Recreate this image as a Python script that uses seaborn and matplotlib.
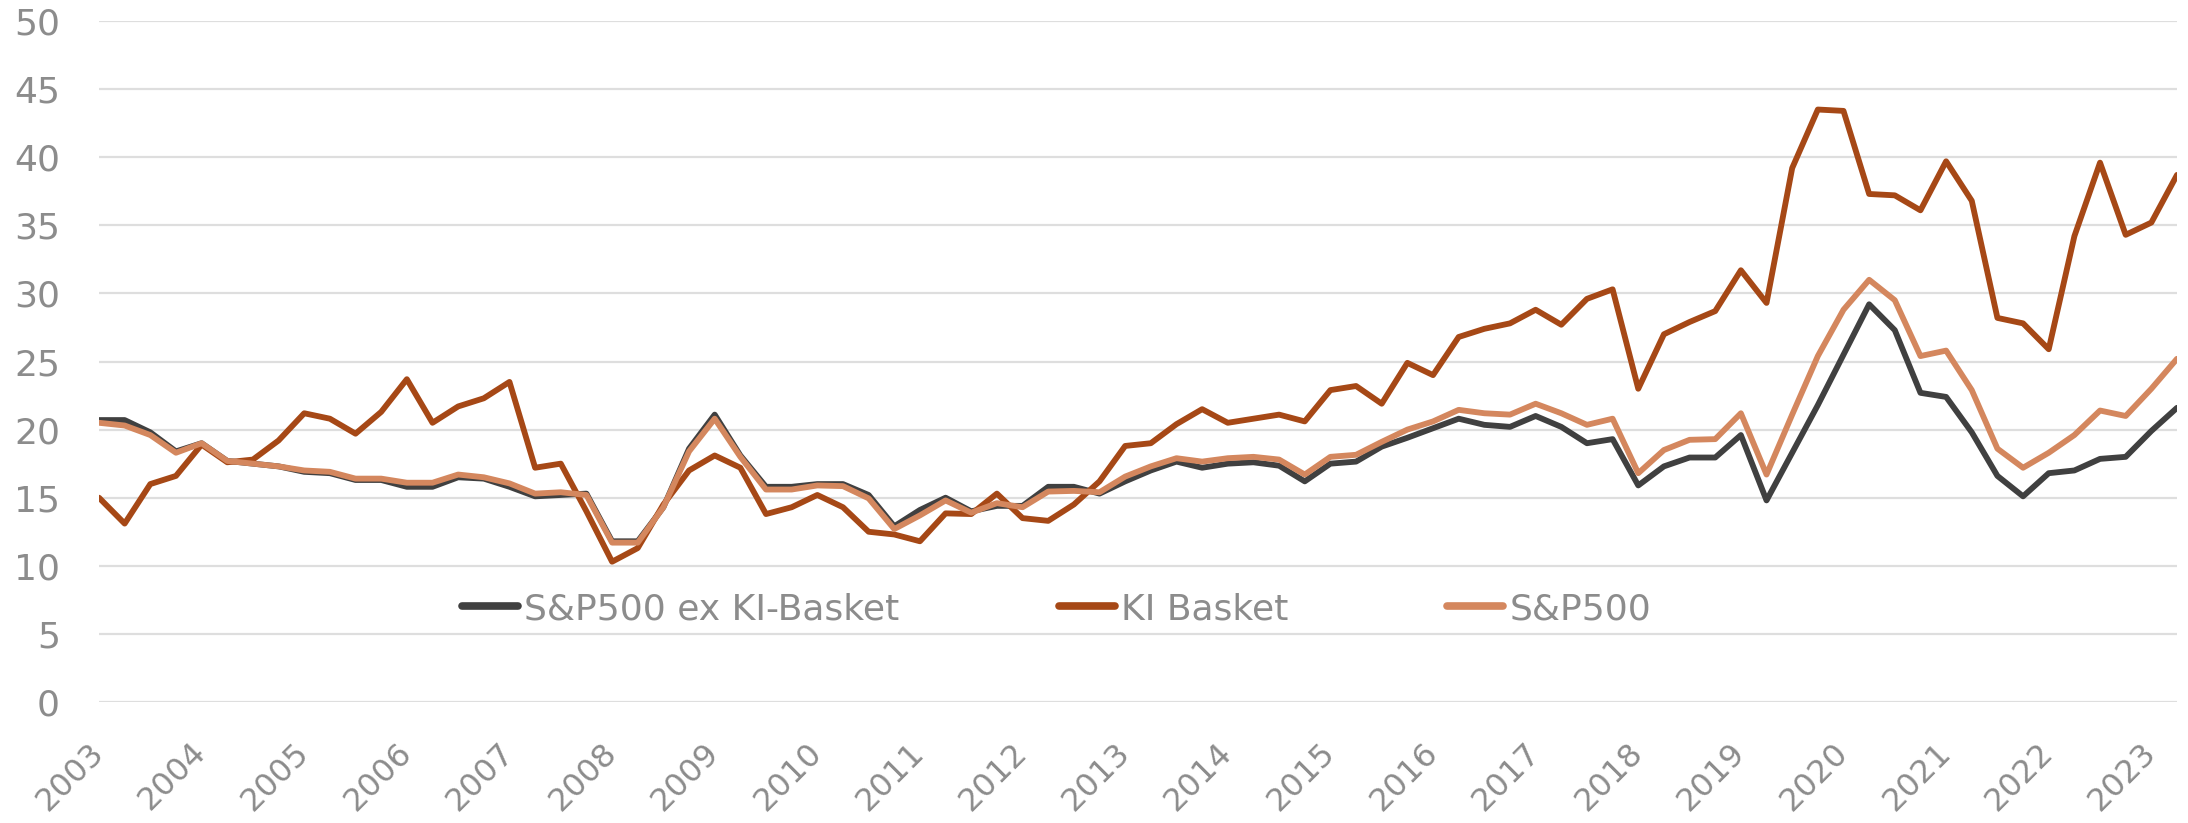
import matplotlib
matplotlib.use("Agg")
import matplotlib.pyplot as plt
import numpy as np
import pandas as pd
import seaborn as sns

# quarterly P/E style series, 2003Q1 .. 2023Q2
sp500_ex_ki = [
    20.7, 20.7, 19.8, 18.4, 19.0, 17.7, 17.5, 17.3, 16.9, 16.8,
    16.3, 16.3, 15.8, 15.8, 16.5, 16.4, 15.8, 15.1, 15.2, 15.3,
    11.8, 11.8, 14.3, 18.6, 21.1, 18.1, 15.8, 15.8, 16.0, 16.0,
    15.2, 12.9, 14.1, 15.0, 14.0, 14.4, 14.4, 15.8, 15.8, 15.3,
    16.2, 17.0, 17.65, 17.2, 17.5, 17.6, 17.35, 16.2, 17.5, 17.65,
    18.75, 19.4, 20.1, 20.8, 20.35, 20.2, 21.0, 20.2, 19.0, 19.3,
    15.9, 17.3, 17.95, 17.95, 19.6, 14.8, 18.3, 21.8, 25.5, 29.2,
    27.3, 22.7, 22.4, 19.8, 16.6, 15.1, 16.8, 17.0, 17.85, 18.0,
    19.9, 21.6,
]
ki_basket = [
    15.0, 13.1, 16.0, 16.6, 18.9, 17.6, 17.8, 19.2, 21.2, 20.8,
    19.7, 21.3, 23.7, 20.5, 21.7, 22.3, 23.5, 17.2, 17.5, 14.0,
    10.3, 11.3, 14.5, 17.0, 18.1, 17.2, 13.8, 14.3, 15.2, 14.3,
    12.5, 12.3, 11.8, 13.85, 13.8, 15.3, 13.5, 13.3, 14.5, 16.2,
    18.8, 19.0, 20.4, 21.5, 20.5, 20.8, 21.1, 20.6, 22.9, 23.2,
    21.9, 24.9, 24.0, 26.8, 27.4, 27.8, 28.8, 27.7, 29.6, 30.3,
    23.0, 27.0, 27.9, 28.7, 31.7, 29.3, 39.2, 43.5, 43.4, 37.3,
    37.2, 36.1, 39.7, 36.8, 28.2, 27.8, 25.9, 34.2, 39.6, 34.3,
    35.2, 38.7,
]
sp500 = [
    20.5, 20.3, 19.6, 18.3, 19.0, 17.7, 17.5, 17.3, 17.0, 16.9,
    16.4, 16.4, 16.1, 16.1, 16.7, 16.5, 16.05, 15.3, 15.4, 15.2,
    11.7, 11.7, 14.3, 18.4, 20.8, 18.0, 15.6, 15.6, 15.9, 15.85,
    14.95, 12.7, 13.7, 14.8, 13.9, 14.6, 14.3, 15.45, 15.5, 15.4,
    16.55, 17.3, 17.9, 17.65, 17.9, 18.0, 17.8, 16.7, 18.0, 18.15,
    19.1, 20.0, 20.6, 21.45, 21.2, 21.1, 21.9, 21.2, 20.35, 20.8,
    16.8, 18.5, 19.25, 19.3, 21.2, 16.7, 21.1, 25.4, 28.8, 31.0,
    29.5, 25.4, 25.8, 22.9, 18.6, 17.2, 18.3, 19.6, 21.4, 21.0,
    23.0, 25.2,
]
series_names = ["S&P500 ex KI-Basket", "KI Basket", "S&P500"]
series_colors = ["#404040", "#a64816", "#d4875e"]
years = list(range(2003, 2024))
y_ticks = list(range(0, 51, 5))

quarter = 2003 + np.arange(len(sp500)) / 4
df = pd.concat([
    pd.DataFrame({"quarter": quarter, "value": vals, "series": name})
    for name, vals in zip(series_names, [sp500_ex_ki, ki_basket, sp500])
])

sns.set_style("white")
plt.rcParams["font.family"] = ["DejaVu Sans"]

W, H = 2188, 823
fig = plt.figure(figsize=(W / 100, H / 100), dpi=100)
ax = fig.add_axes([99 / W, 1 - 702 / H, (2177 - 99) / W, (702 - 21) / H])

sns.lineplot(
    data=df, x="quarter", y="value", hue="series",
    hue_order=series_names, palette=series_colors,
    linewidth=4.2, ax=ax,
)

ax.set_xlim(quarter[0], quarter[-1])
ax.set_ylim(0, 50)
ax.set_yticks(y_ticks)
ax.set_xticks(years)
ax.set_xticklabels([str(y) for y in years], rotation=45, ha="right",
                   va="center", rotation_mode="anchor")
ax.tick_params(axis="y", length=0, pad=28, labelsize=26, labelcolor="#8c8c8c")
ax.tick_params(axis="x", length=0, pad=33, labelsize=23, labelcolor="#8c8c8c")
ax.grid(axis="y", color="#dedede", linewidth=1.6)
ax.grid(axis="x", visible=False)
ax.set_axisbelow(True)
for s in ax.spines.values():
    s.set_visible(False)
ax.set_xlabel("")
ax.set_ylabel("")

handles, labels = ax.get_legend_handles_labels()
leg = ax.legend(
    handles, labels, ncol=3, frameon=False, fontsize=26,
    loc="center left", bbox_to_anchor=(462 / W, 1 - 609 / H),
    bbox_transform=fig.transFigure, borderpad=0, borderaxespad=0,
    handlelength=1.55, handletextpad=0.18, columnspacing=4.4,
    labelcolor="#8c8c8c",
)
for line in leg.get_lines():
    line.set_linewidth(5.5)
    line.set_solid_capstyle("round")

fig.savefig("out.png", dpi=100)
